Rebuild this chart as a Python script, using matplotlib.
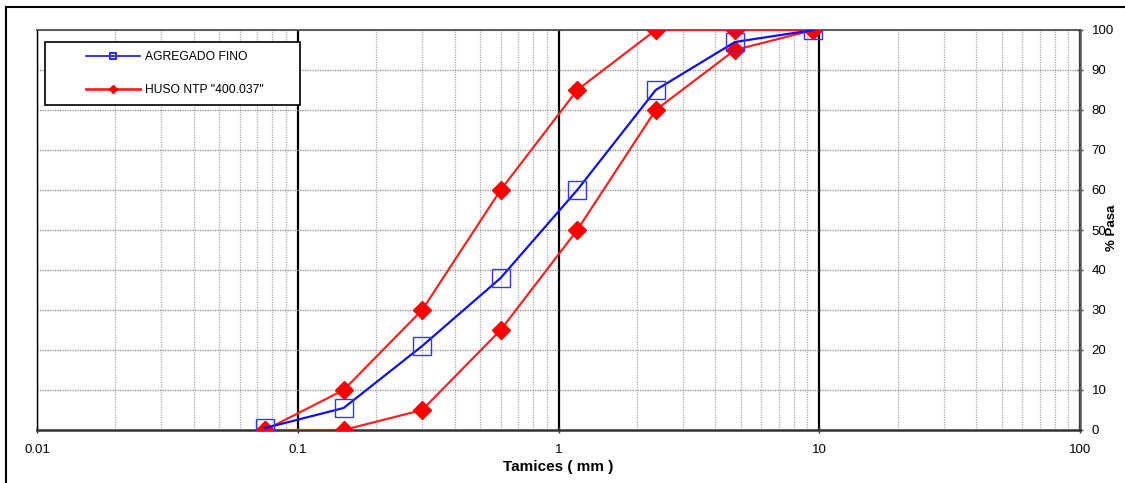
import numpy as np
import matplotlib
matplotlib.use('Agg')
import matplotlib.pyplot as plt
from matplotlib.lines import Line2D
from matplotlib.patches import Rectangle
from matplotlib.ticker import LogLocator, FixedLocator, NullFormatter

plt.rcParams['font.family'] = ['Liberation Sans', 'DejaVu Sans']

# Tamices (mm) y % que pasa
tamices = [0.075, 0.15, 0.3, 0.6, 1.18, 2.36, 4.75, 9.5]
agregado_fino = [0.5, 5.5, 21, 38, 60, 85, 97, 100]
huso_sup = [0, 10, 30, 60, 85, 100, 100, 100]
huso_inf = [0, 0, 5, 25, 50, 80, 95, 100]

W, H = 1125, 483
fig = plt.figure(figsize=(W / 100, H / 100), dpi=100)
ax = fig.add_axes([37 / W, 1 - 430 / H, (1080 - 37) / W, 400 / H])

ax.set_xscale('log')
ax.set_xlim(0.01, 100)
ax.set_ylim(0, 100)

# grilla
ax.xaxis.set_major_locator(FixedLocator([0.01, 0.1, 1, 10, 100]))
ax.xaxis.set_minor_locator(LogLocator(base=10, subs=np.arange(2, 10)))
ax.xaxis.set_minor_formatter(NullFormatter())
ax.set_xticklabels(['0.01', '0.1', '1', '10', '100'])
ax.set_yticks(range(0, 101, 10))
ax.grid(which='minor', axis='x', color='#aaaaaa', linestyle=(0, (1, 1)), linewidth=0.9)
ax.grid(which='major', axis='x', color='black', linestyle='-', linewidth=1.6)
ax.grid(which='major', axis='y', color='#888888', linestyle=(0, (1, 1)), linewidth=0.9)
ax.set_axisbelow(True)

ax.yaxis.tick_right()
ax.tick_params(axis='y', which='major', direction='inout', length=5, width=1,
               labelsize=9.5, pad=6, color='#555555')
ax.tick_params(axis='x', which='major', direction='inout', length=4, width=1,
               labelsize=9.5, pad=8, color='#333333')
ax.tick_params(axis='x', which='minor', length=0)

ax.spines['left'].set_linewidth(1.0)
ax.spines['right'].set_linewidth(1.8)
ax.spines['right'].set_color('#555555')
ax.spines['bottom'].set_linewidth(1.8)
ax.spines['bottom'].set_color('#333333')
ax.spines['top'].set_linewidth(1.2)
ax.spines['top'].set_color('#444444')

# curvas
ax.plot(tamices, huso_sup, color='#ff2020', linewidth=1.6, marker='D',
        markersize=9, markerfacecolor='#ff0000', markeredgecolor='#ff0000', zorder=3)
ax.plot(tamices, huso_inf, color='#ff2020', linewidth=1.6, marker='D',
        markersize=9, markerfacecolor='#ff0000', markeredgecolor='#ff0000', zorder=3)
ax.plot(tamices, agregado_fino, color='#1010ee', linewidth=1.6, marker='s',
        markersize=13.5, markerfacecolor='none', markeredgecolor='#3333ff',
        markeredgewidth=1.0, zorder=4)

ax.set_xlabel('Tamices ( mm )', fontsize=11, fontweight='bold', labelpad=3)
ax.text(1.0305, 0.505, '% Pasa', transform=ax.transAxes, rotation=90,
        fontsize=9.5, fontweight='bold', ha='center', va='center')

# leyenda
handles = [Line2D([], [], color='#1010ee', linewidth=1.2, marker='s', markersize=5,
                  markerfacecolor='none', markeredgecolor='#3333ff', markeredgewidth=1.5),
           Line2D([], [], color='#ff2020', linewidth=2.0, marker='D', markersize=4,
                  markerfacecolor='#ff0000', markeredgecolor='#ff0000')]
labels = ['AGREGADO FINO', 'HUSO NTP "400.037"']
fig.add_artist(Rectangle((45 / W, 1 - 105 / H), 255 / W, 63 / H, transform=fig.transFigure,
                         fill=True, facecolor='white', edgecolor='black', linewidth=1.2,
                         zorder=2.5))
leg = fig.legend(handles, labels, loc='upper left', bbox_to_anchor=(86 / W, 1 - 51 / H),
                 frameon=False, borderpad=0, borderaxespad=0, handlelength=4.5,
                 handletextpad=0.35, labelspacing=1.75, fontsize=8.7)
leg.set_zorder(6)

# marco exterior
fig.add_artist(Line2D([6 / W, 6 / W], [0, 1 - 7 / H], color='black', linewidth=1.5,
                      transform=fig.transFigure))
fig.add_artist(Line2D([6 / W, 1], [1 - 7 / H, 1 - 7 / H], color='black', linewidth=1.5,
                      transform=fig.transFigure))

fig.savefig('out.png', dpi=100)
